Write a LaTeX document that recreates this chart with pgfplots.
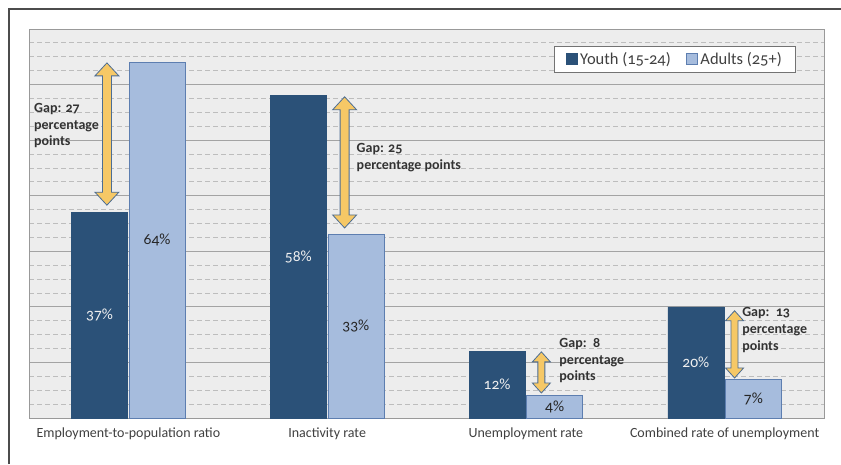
\documentclass[border=0pt]{standalone}
\usepackage{fontspec}
\setmainfont{Carlito}[Numbers=OldStyle]
\usepackage{pgfplots}
\pgfplotsset{compat=1.18}
\definecolor{youth}{HTML}{2B5178}
\definecolor{adult}{HTML}{A6BCDD}
\definecolor{adultline}{HTML}{5D7EB0}
\definecolor{arrowfill}{HTML}{F6C866}
\definecolor{arrowline}{HTML}{4C6D93}
\definecolor{plotbg}{HTML}{EDEDED}
\definecolor{txt}{HTML}{404040}
\newcommand\gaparrow[6]{%
 \draw[draw=arrowline, fill=arrowfill, line width=0.8pt, line join=miter]
 (axis cs:#1,#2) -- ([xshift=#4,yshift=-#5]axis cs:#1,#2) -- ([xshift=#6,yshift=-#5]axis cs:#1,#2)
 -- ([xshift=#6,yshift=#5]axis cs:#1,#3) -- ([xshift=#4,yshift=#5]axis cs:#1,#3) -- (axis cs:#1,#3)
 -- ([xshift=-#4,yshift=#5]axis cs:#1,#3) -- ([xshift=-#6,yshift=#5]axis cs:#1,#3)
 -- ([xshift=-#6,yshift=-#5]axis cs:#1,#2) -- ([xshift=-#4,yshift=-#5]axis cs:#1,#2) -- cycle;}
\begin{document}
\begin{tikzpicture}
\path[use as bounding box, fill=white] (0,0) rectangle (841pt,464pt);
\draw[line width=1.4pt, draw=black!70] (9pt,0) -- (9pt,455pt) -- (841pt,455pt);
\begin{axis}[
  at={(29pt,46pt)}, anchor=south west,
  scale only axis, width=795pt, height=389pt,
  xmin=-0.5, xmax=3.5, ymin=0, ymax=70,
  ybar=1.5pt, bar width=56pt,
  axis background/.style={fill=plotbg},
  axis line style={draw=black!40, line width=0.8pt},
  ytick={0,10,...,70}, minor y tick num=3, yticklabels={},
  ymajorgrids, yminorgrids,
  major grid style={draw=black!36, line width=0.9pt},
  minor grid style={draw=black!26, line width=0.8pt, dash pattern=on 5pt off 3pt},
  major tick length=0pt, minor tick length=0pt,
  xtick={0,1,2,3},
  xticklabels={Employment-to-population ratio, Inactivity rate, Unemployment rate, Combined rate of unemployment},
  xticklabel style={font=\fontsize{14}{16}\selectfont, text=txt, yshift=-6pt},
  legend style={at={(0.9635,0.956)}, anchor=north east, draw=black!55, fill=white,
    font=\fontsize{16.5}{18}\selectfont, text=txt, inner xsep=11pt, inner ysep=4pt,
    /tikz/every even column/.append style={column sep=13pt},
    /tikz/every odd column/.append style={column sep=1pt}},
  legend columns=2,
  legend image code/.code={\draw[#1, line width=0.6pt] (0pt,-5.5pt) rectangle (11pt,5.5pt);},
  /pgf/number format/assume math mode=true,
  visualization depends on={rawy \as \rawy},
  nodes near coords={\pgfmathprintnumber{\pgfplotspointmeta}\%},
  every node near coord/.append style={anchor=center, font=\fontsize{15.5}{17}\selectfont,
    shift={(axis direction cs:0,{-\rawy/2})}},
  clip=false,
]
\addplot[fill=youth, draw=youth, every node near coord/.append style={text=white!94!black}]
  coordinates {(0,37) (1,58) (2,12) (3,20)};
\addplot[fill=adult, draw=adultline, line width=0.6pt, every node near coord/.append style={text=black!85}]
  coordinates {(0,64) (1,33) (2,4) (3,7)};
\legend{Youth (15-24), Adults (25+)}
\gaparrow{-0.108}{63.9}{38.3}{12pt}{13pt}{4.5pt}
\gaparrow{1.088}{57.8}{34.2}{12pt}{13pt}{4.5pt}
\gaparrow{2.078}{11.9}{4.5}{9pt}{10pt}{3.5pt}
\gaparrow{3.05}{19.3}{7.2}{9pt}{10pt}{3.5pt}
\begin{scope}[every node/.style={anchor=north west, inner sep=0pt, align=left, text=black!80,
   font=\bfseries\fontsize{14}{16.8}\selectfont}]
\node at (axis cs:-0.475,56.7) {Gap: 27\\percentage\\points};
\node at (axis cs:1.148,49.4) {Gap: 25\\percentage points};
\node at (axis cs:2.168,14.4) {Gap:\ \ 8\\percentage\\points};
\node at (axis cs:3.088,19.9) {Gap:\ \ 13\\percentage\\points};
\end{scope}
\end{axis}
\end{tikzpicture}
\end{document}
